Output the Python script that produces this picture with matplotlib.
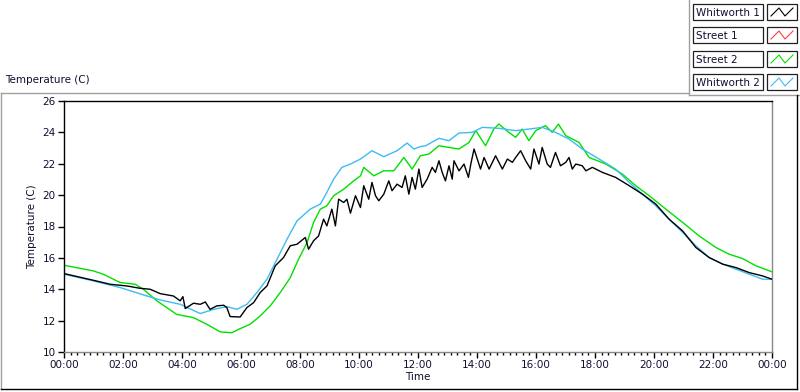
import matplotlib
matplotlib.use("Agg")
import matplotlib.pyplot as plt
from matplotlib.ticker import MultipleLocator, FixedLocator, FixedFormatter

# ---------------- data (hours, °C) ----------------
w1_h = [0.0, 1.0, 1.56, 2.13, 2.58, 2.92, 3.26, 3.71, 3.94, 4.03, 4.11, 4.39, 4.62, 4.79, 4.95,
        5.18, 5.41, 5.52, 5.63, 5.97, 6.2, 6.43, 6.65, 6.88, 7.16, 7.44, 7.67, 7.9, 8.18, 8.29,
        8.46, 8.63, 8.8, 8.91, 9.08, 9.2, 9.31, 9.48, 9.59, 9.71, 9.88, 10.05, 10.16, 10.33,
        10.44, 10.56, 10.67, 10.84, 11.01, 11.12, 11.29, 11.46, 11.57, 11.69, 11.8, 11.91,
        12.03, 12.14, 12.31, 12.48, 12.59, 12.71, 12.82, 12.93, 13.05, 13.16, 13.22, 13.39,
        13.56, 13.71, 13.79, 13.9, 14.01, 14.12, 14.24, 14.41, 14.63, 14.86, 15.03, 15.2,
        15.31, 15.48, 15.65, 15.82, 15.93, 16.1, 16.21, 16.38, 16.49, 16.66, 16.83, 17.01,
        17.12, 17.23, 17.35, 17.57, 17.69, 17.91, 18.25, 18.7, 19.16, 19.61, 20.06, 20.51,
        20.97, 21.42, 21.87, 22.33, 22.78, 23.23, 23.68, 24.0]
w1_t = [15.0, 14.57, 14.32, 14.21, 14.06, 14.0, 13.72, 13.57, 13.26, 13.53, 12.77, 13.11, 13.04,
        13.19, 12.72, 12.94, 12.98, 12.83, 12.26, 12.23, 12.83, 13.15, 13.79, 14.21, 15.49,
        16.02, 16.77, 16.87, 17.3, 16.55, 17.09, 17.4, 18.47, 18.04, 19.11, 18.04, 19.74,
        19.53, 19.74, 18.85, 19.96, 19.21, 20.6, 19.74, 20.81, 19.96, 19.64, 20.06, 20.91,
        20.28, 20.7, 20.49, 21.23, 20.06, 21.13, 20.38, 21.66, 20.49, 21.02, 21.77, 21.45,
        22.19, 21.45, 20.91, 21.87, 21.02, 22.19, 21.55, 21.98, 21.13, 21.98, 22.94, 22.3,
        21.66, 22.4, 21.66, 22.51, 21.66, 22.3, 22.09, 22.4, 22.83, 22.19, 21.66, 22.94,
        21.98, 23.04, 21.98, 21.77, 22.72, 21.87, 22.09, 22.4, 21.66, 21.98, 21.87, 21.55,
        21.77, 21.45, 21.13, 20.6, 20.06, 19.43, 18.47, 17.72, 16.66, 16.02, 15.6, 15.38,
        15.06, 14.85, 14.64]

s1_h = []
s1_t = []

s2_h = [0.0, 0.995, 1.33, 1.9, 2.41, 2.69, 3.15, 3.82, 4.39, 4.84, 5.3, 5.69, 5.97, 6.31, 6.65,
        6.99, 7.33, 7.67, 7.95, 8.24, 8.46, 8.69, 8.91, 9.14, 9.48, 9.82, 10.05, 10.16, 10.5,
        10.84, 11.18, 11.52, 11.8, 12.08, 12.37, 12.71, 13.05, 13.39, 13.73, 13.96, 14.29,
        14.57, 14.74, 15.08, 15.31, 15.53, 15.76, 15.99, 16.32, 16.55, 16.76, 17.01, 17.46,
        17.8, 18.37, 18.93, 19.38, 19.84, 20.4, 20.97, 21.53, 22.1, 22.55, 23.0, 23.46, 24.0]
s2_t = [15.53, 15.17, 14.96, 14.43, 14.32, 14.0, 13.26, 12.4, 12.19, 11.77, 11.28, 11.23, 11.49,
        11.77, 12.3, 12.94, 13.79, 14.74, 15.91, 16.98, 18.26, 19.11, 19.32, 19.96, 20.38,
        20.91, 21.23, 21.77, 21.23, 21.55, 21.55, 22.4, 21.66, 22.51, 22.62, 23.15, 23.04,
        22.94, 23.36, 24.11, 23.15, 24.21, 24.53, 24.0, 23.68, 24.21, 23.47, 24.11, 24.43,
        24.0, 24.53, 23.79, 23.36, 22.4, 21.98, 21.34, 20.6, 19.96, 19.11, 18.26, 17.4,
        16.66, 16.23, 15.96, 15.49, 15.11]

w2_h = [0.0, 1.0, 1.9, 2.81, 3.26, 3.94, 4.62, 5.07, 5.52, 5.86, 6.2, 6.54, 6.88, 7.22, 7.56,
        7.9, 8.35, 8.69, 8.91, 9.14, 9.42, 9.71, 10.05, 10.44, 10.84, 11.29, 11.63, 11.86,
        12.08, 12.26, 12.71, 13.05, 13.39, 13.84, 14.18, 14.74, 15.31, 15.76, 16.21, 16.66,
        17.12, 17.57, 18.14, 18.7, 19.16, 19.61, 20.06, 20.51, 20.97, 21.42, 21.87, 22.33,
        22.78, 23.23, 23.68, 24.0]
w2_t = [14.96, 14.53, 14.11, 13.57, 13.32, 13.04, 12.45, 12.72, 12.89, 12.72, 13.04, 13.79,
        14.64, 15.91, 17.19, 18.36, 19.11, 19.43, 20.17, 21.02, 21.77, 21.98, 22.3, 22.83,
        22.45, 22.83, 23.32, 22.94, 23.09, 23.15, 23.62, 23.47, 23.96, 24.0, 24.32, 24.26,
        24.11, 24.21, 24.32, 24.0, 23.57, 22.94, 22.3, 21.66, 20.81, 20.06, 19.32, 18.47,
        17.62, 16.77, 16.02, 15.6, 15.28, 14.96, 14.64, 14.64]

series_names = ["Whitworth 1", "Street 1", "Street 2", "Whitworth 2"]
series_colors = ["#000000", "#ff3c3c", "#00e000", "#3cbcf4"]

x_tick_hours = [0, 2, 4, 6, 8, 10, 12, 14, 16, 18, 20, 22, 24]
x_tick_labels = ["00:00", "02:00", "04:00", "06:00", "08:00", "10:00", "12:00",
                 "14:00", "16:00", "18:00", "20:00", "22:00", "00:00"]
y_ticks = [10, 12, 14, 16, 18, 20, 22, 24, 26]

# ---------------- figure ----------------
W, H = 800, 392
fig = plt.figure(figsize=(W / 100, H / 100), dpi=100)
fig.patch.set_facecolor("white")
FS = 7.5
txt = "#101030"

# overlay in pixel coordinates for frame & legend decorations
ov = fig.add_axes([0, 0, 1, 1])
ov.set_xlim(0, W)
ov.set_ylim(H, 0)
ov.axis("off")
gray = "#a0a0a0"
# chart title
ov.text(5, 80, "Temperature (C)", fontsize=FS, color=txt, va="center", ha="left")
# outer frame
ov.plot([1, 689], [92.5, 92.5], color=gray, lw=1)
ov.plot([689, 689], [0, 94.5], color=gray, lw=1)
ov.plot([689, 800], [94.5, 94.5], color=gray, lw=1)
ov.plot([1, 1], [92.5, 389], color=gray, lw=1)
ov.plot([796.5, 796.5], [94.5, 389], color="#000000", lw=1)
ov.plot([1, 797], [389, 389], color="#000000", lw=1)

# legend
leg_top = [4, 27, 51, 74]
for name, col, ty in zip(series_names, series_colors, leg_top):
    ov.add_patch(plt.Rectangle((693, ty), 70, 16, fill=False, ec="#202020", lw=0.9))
    ov.text(696, ty + 8.5, name, fontsize=FS, color=txt, va="center", ha="left")
    ov.add_patch(plt.Rectangle((767, ty), 30, 16, fill=False, ec="#202020", lw=0.9))
    ov.plot([771, 779, 785, 793], [ty + 12, ty + 4, ty + 12, ty + 4], color=col, lw=0.8)

# main plot axes
ax = fig.add_axes([64 / W, 1 - 352 / H, (772 - 64) / W, (352 - 101) / H])
ax.plot(w1_h, w1_t, color=series_colors[0], lw=1.0, zorder=3)
ax.plot(s1_h, s1_t, color=series_colors[1], lw=1.0, zorder=2)
ax.plot(s2_h, s2_t, color=series_colors[2], lw=1.0, zorder=2)
ax.plot(w2_h, w2_t, color=series_colors[3], lw=1.0, zorder=2)

ax.set_xlim(0, 24)
ax.set_ylim(10, 26)
ax.xaxis.set_major_locator(FixedLocator(x_tick_hours))
ax.xaxis.set_major_formatter(FixedFormatter(x_tick_labels))
ax.xaxis.set_minor_locator(MultipleLocator(2 / 9))
ax.yaxis.set_major_locator(FixedLocator(y_ticks))
ax.tick_params(axis="both", which="major", direction="out", length=4, width=1,
               color="#000000", labelsize=FS, labelcolor=txt, pad=2)
ax.tick_params(axis="x", which="minor", direction="out", length=2.5, width=1, color="#000000")
ax.spines["top"].set_color("#000000")
ax.spines["left"].set_color("#000000")
ax.spines["right"].set_color("#888888")
ax.spines["bottom"].set_color("#888888")
for s in ax.spines.values():
    s.set_linewidth(1)
ax.set_xlabel("Time", fontsize=FS, color=txt, labelpad=1)
ax.set_ylabel("Temperature (C)", fontsize=FS, color=txt, labelpad=4)

fig.savefig("out.png", dpi=100)
